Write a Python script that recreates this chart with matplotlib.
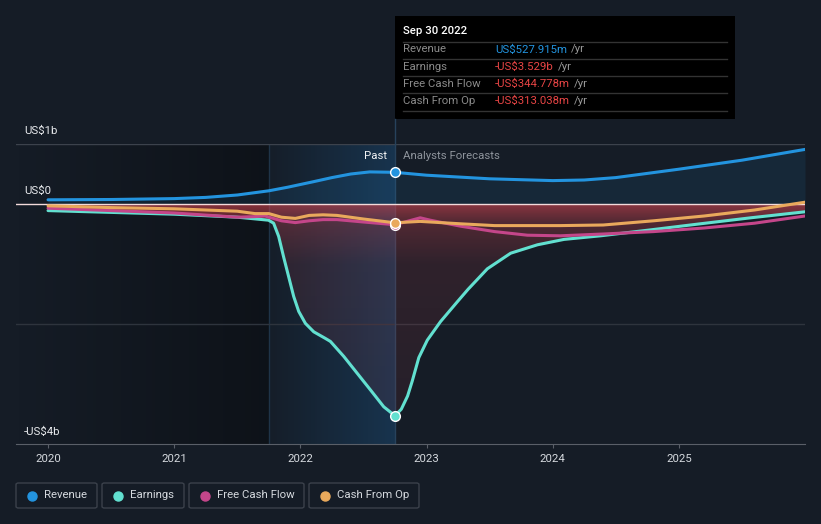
"""
Revenue / earnings / cash flow history and analyst forecasts (US$ billions).
Dark dashboard style with a "Past" band and a hover-style tooltip box.
"""
import numpy as np
import matplotlib.pyplot as plt
from matplotlib.lines import Line2D
from matplotlib.patches import Rectangle, FancyBboxPatch
from matplotlib.transforms import blended_transform_factory

# Data (x = fractional year, y = US$ billions)
rev_x = [2020.0, 2020.5, 2021.0, 2021.25, 2021.5, 2021.75, 2021.9, 2022.1, 2022.25, 2022.4,
         2022.55, 2022.75, 2023.0, 2023.5, 2024.0, 2024.25, 2024.5, 2025.0, 2025.5, 2026.0]
rev_y = [0.07, 0.075, 0.09, 0.11, 0.15, 0.22, 0.28, 0.37, 0.44, 0.50,
         0.535, 0.528, 0.48, 0.42, 0.39, 0.40, 0.44, 0.58, 0.73, 0.91]

earn_x = [2020.0, 2020.5, 2021.0, 2021.5, 2021.65, 2021.748, 2021.788, 2021.828, 2021.867,
          2021.907, 2021.947, 2021.987, 2022.04, 2022.106, 2022.198, 2022.238, 2022.344,
          2022.45, 2022.556, 2022.661, 2022.75, 2022.80, 2022.85, 2022.887, 2022.939, 2023.006,
          2023.111, 2023.244, 2023.33, 2023.482, 2023.667, 2023.879, 2024.09, 2024.38,
          2024.78, 2025.17, 2025.57, 2026.0]
earn_y = [-0.11, -0.14, -0.17, -0.22, -0.25, -0.27, -0.32, -0.54, -0.88,
          -1.21, -1.54, -1.79, -1.99, -2.13, -2.24, -2.29, -2.54,
          -2.82, -3.1, -3.38, -3.529, -3.42, -3.2, -2.95, -2.56, -2.27,
          -1.96, -1.63, -1.42, -1.08, -0.82, -0.68, -0.59, -0.53,
          -0.43, -0.33, -0.23, -0.13]

fcf_x = [2020.0, 2020.5, 2021.0, 2021.5, 2021.64, 2021.72, 2021.85, 2021.96, 2022.07, 2022.18,
         2022.29, 2022.5, 2022.75, 2022.95, 2023.03, 2023.27, 2023.54, 2023.8, 2024.06, 2024.4,
         2024.8, 2025.2, 2025.6, 2026.0]
fcf_y = [-0.07, -0.11, -0.15, -0.22, -0.21, -0.20, -0.28, -0.31, -0.28, -0.26,
         -0.26, -0.30, -0.345, -0.23, -0.27, -0.37, -0.46, -0.52, -0.53, -0.50,
         -0.46, -0.40, -0.32, -0.20]

cfo_x = [2020.0, 2020.5, 2021.0, 2021.5, 2021.64, 2021.75, 2021.85, 2021.96, 2022.07, 2022.18,
         2022.29, 2022.5, 2022.75, 2022.95, 2023.27, 2023.54, 2023.8, 2024.06, 2024.4, 2024.8,
         2025.2, 2025.6, 2026.0]
cfo_y = [-0.03, -0.06, -0.08, -0.12, -0.16, -0.16, -0.22, -0.24, -0.19, -0.18,
         -0.19, -0.25, -0.313, -0.29, -0.33, -0.36, -0.36, -0.36, -0.35, -0.28,
         -0.20, -0.10, 0.03]

years = [2020, 2021, 2022, 2023, 2024, 2025]
past_start, past_end = 2021.75, 2022.75

series_names = ['Revenue', 'Earnings', 'Free Cash Flow', 'Cash From Op']
series_colors = ['#2394df', '#62e0d0', '#c4468a', '#e9a95c']
tip_values = ['US$527.915m', '-US$3.529b', '-US$344.778m', '-US$313.038m']

BG = '#151c26'
W, H = 821, 524
FS = 8.2
plt.rcParams['font.family'] = ['Roboto', 'DejaVu Sans']

fig = plt.figure(figsize=(W / 100, H / 100), dpi=100, facecolor=BG)
ax = fig.add_axes([16 / W, 80 / H, 789 / W, 300 / H])
ax.set_facecolor(BG)

# darker band before the past year, blue glow over the past year
dark = np.zeros((1, 256, 4))
dark[..., 3] = np.linspace(0, 0.35, 256)
ax.imshow(dark, extent=[2019.746, past_start, -4, 1], aspect='auto', zorder=0)
blue = np.zeros((1, 256, 4))
blue[..., :3] = [0.12, 0.45, 0.72]
blue[..., 3] = np.linspace(0.02, 0.28, 256)
ax.imshow(blue, extent=[past_start, past_end, -4, 1], aspect='auto', zorder=0.5)
ax.axvline(past_start, color='#1f3448', lw=1, zorder=0.6)

# revenue area
ax.fill_between(rev_x, rev_y, 0, color='#2394df', alpha=0.1, lw=0, zorder=1)

# red gradient between zero and earnings
poly = ax.fill_between(earn_x, earn_y, 0, facecolor='none', lw=0)
depth = np.linspace(0, 4, 400)
red = np.zeros((400, 1, 4))
red[..., :3] = [0.82, 0.27, 0.31]
red[:, 0, 3] = np.interp(depth, [0, 0.3, 1.0, 4.0], [0.62, 0.32, 0.14, 0.08])
im = ax.imshow(red, extent=[2020, 2026, -4, 0], aspect='auto', origin='upper', zorder=1)
im.set_clip_path(poly.get_paths()[0], transform=ax.transData)
ax.set_xlim(2019.746, 2026.0)
ax.set_ylim(-4, 1)

# gridlines
ax.axhline(1, color='#3c424c', lw=1, zorder=0.7)
ax.axhline(-2, color='#2e343d', lw=1, zorder=0.7)
ax.axhline(0, color='#f3dada', lw=1, zorder=3)
ax.axvline(past_end, color='#27425c', lw=1, zorder=0.8)
fig.add_artist(Line2D([395 / W, 395 / W], [1 - 144 / H, 1 - 119 / H], color='#27425c', lw=1))

# lines
line_kw = dict(lw=2.2, zorder=4, solid_joinstyle='round', solid_capstyle='round')
ax.plot(earn_x, earn_y, color=series_colors[1], **line_kw)
ax.plot(fcf_x, fcf_y, color=series_colors[2], **line_kw)
ax.plot(cfo_x, cfo_y, color=series_colors[3], **line_kw)
ax.plot(rev_x, rev_y, color=series_colors[0], **line_kw)

# markers at Sep 30 2022
for xs, ys, c in [(fcf_x, fcf_y, series_colors[2]), (cfo_x, cfo_y, series_colors[3]),
                  (earn_x, earn_y, series_colors[1]), (rev_x, rev_y, series_colors[0])]:
    i = xs.index(past_end)
    ax.plot(xs[i], ys[i], 'o', ms=7, mfc=c, mec='white', mew=1, zorder=5)

# axes styling
for s in ['top', 'right', 'left']:
    ax.spines[s].set_visible(False)
ax.spines['bottom'].set_color('#5a5f68')
ax.set_xticks(years)
ax.set_xticklabels([str(y) for y in years])
ax.tick_params(axis='x', colors='#5a5f68', labelcolor='#d5d9de', labelsize=FS, length=3, pad=4)
ax.set_yticks([])

trans = blended_transform_factory(ax.transAxes, ax.transData)
for val, lab in [(1.217, 'US$1b'), (0.217, 'US$0'), (-3.8, '-US$4b')]:
    ax.text(0.0101, val, lab, transform=trans, color='#e8eaed', fontsize=FS, va='center', ha='left')

ax.text(past_end - 8 / 126, 0.8, 'Past', color='#f0f2f4', fontsize=FS, ha='right', va='center')
ax.text(past_end + 8 / 126, 0.8, 'Analysts Forecasts', color='#8e949c', fontsize=FS,
        ha='left', va='center')

# tooltip box
fig.add_artist(Rectangle((395 / W, 1 - 119 / H), 340 / W, 103 / H, transform=fig.transFigure,
                         facecolor='black', edgecolor='none'))
fig.text(403 / W, 1 - 31 / H, 'Sep 30 2022', color='white', fontsize=FS, va='center',
         fontweight='medium')
for yy in [41.5, 58.5, 75.5, 92.5, 110.5]:
    fig.add_artist(Line2D([403 / W, 727 / W], [1 - yy / H, 1 - yy / H], color='#333333', lw=1))
renderer = fig.canvas.get_renderer()
for name, val, yy in zip(series_names, tip_values, [49.5, 66.5, 84, 101]):
    fig.text(403 / W, 1 - yy / H, name, color='#8a8a8a', fontsize=FS, va='center')
    vc = '#2394df' if not val.startswith('-') else '#e84545'
    t = fig.text(495 / W, 1 - yy / H, val, color=vc, fontsize=FS, va='center')
    x1 = t.get_window_extent(renderer).x1
    fig.text((x1 + 4) / W, 1 - yy / H, '/yr', color='#9a9a9a', fontsize=FS, va='center')

# legend boxes
boxes = [(16, 97), (102, 184), (189, 304), (309, 419)]
for (x0, x1), name, c in zip(boxes, series_names, series_colors):
    fig.add_artist(FancyBboxPatch((x0 / W, 1 - 508 / H), (x1 - x0) / W, 25 / H,
                                  boxstyle='round,pad=0,rounding_size=0.003',
                                  transform=fig.transFigure, facecolor='none',
                                  edgecolor='#3b414b', lw=1))
    fig.add_artist(Line2D([(x0 + 16) / W], [1 - 495.5 / H], marker='o', ms=6.5,
                          mfc=c, mec=c, transform=fig.transFigure))
    fig.text((x0 + 28) / W, 1 - 495.5 / H, name, color='#d5d9de', fontsize=FS, va='center')

fig.savefig('out.png', dpi=100, facecolor=BG)
